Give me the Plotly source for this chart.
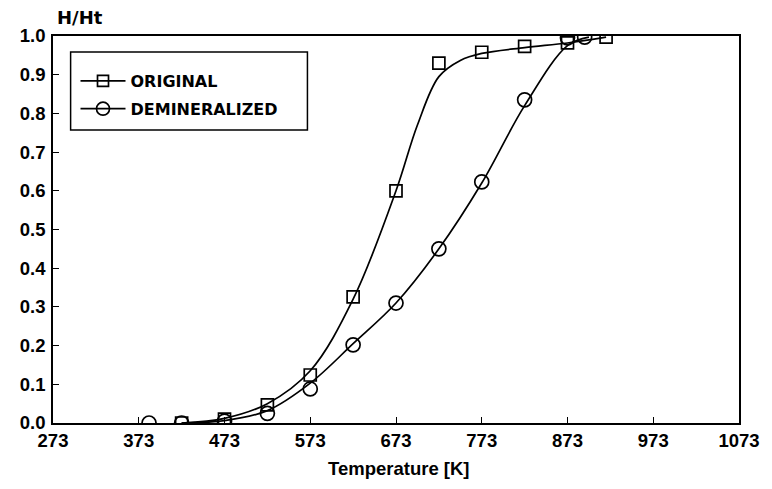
import plotly.graph_objects as go

# Measured points
orig_T = [423, 473, 523, 573, 623, 673, 723, 773, 823, 873, 918]
orig_H = [0.0, 0.01, 0.047, 0.124, 0.326, 0.60, 0.93, 0.958, 0.973, 0.982, 0.997]
demin_T = [385, 423, 473, 523, 573, 623, 673, 723, 773, 823, 873, 893]
demin_H = [0.0, 0.0, 0.005, 0.025, 0.088, 0.202, 0.31, 0.45, 0.623, 0.835, 0.995, 0.997]

# Smoothed curves
orig_curve_T = [423, 473, 523, 573, 623, 673, 698, 723, 748, 773, 823, 873, 918]
orig_curve_H = [0.0, 0.012, 0.05, 0.135, 0.32, 0.60, 0.77, 0.895, 0.937, 0.955, 0.97, 0.982, 0.997]
demin_curve_T = [423, 473, 523, 573, 623, 673, 723, 773, 823, 873, 898]
demin_curve_H = [0.0, 0.006, 0.032, 0.103, 0.205, 0.31, 0.45, 0.62, 0.82, 0.975, 0.997]

x_ticks = [273, 373, 473, 573, 673, 773, 873, 973, 1073]
y_ticks = [0.0, 0.1, 0.2, 0.3, 0.4, 0.5, 0.6, 0.7, 0.8, 0.9, 1.0]

FONT = "Liberation Sans"
FONT2 = "DejaVu Sans"
fig = go.Figure()

fig.add_trace(go.Scatter(x=orig_curve_T, y=orig_curve_H, mode="lines",
                         line=dict(color="black", width=1.7, shape="spline", smoothing=1.0),
                         showlegend=False, hoverinfo="skip"))
fig.add_trace(go.Scatter(x=demin_curve_T, y=demin_curve_H, mode="lines",
                         line=dict(color="black", width=1.7, shape="spline", smoothing=1.0),
                         showlegend=False, hoverinfo="skip"))
fig.add_trace(go.Scatter(x=orig_T, y=orig_H, mode="markers", name="ORIGINAL",
                         marker=dict(symbol="square-open", size=12, color="black", line=dict(width=1.7)),
                         showlegend=False))
fig.add_trace(go.Scatter(x=demin_T, y=demin_H, mode="markers", name="DEMINERALIZED",
                         marker=dict(symbol="circle-open", size=14, color="black", line=dict(width=1.7)),
                         showlegend=False))
# legend entries
fig.add_trace(go.Scatter(x=[None], y=[None], mode="lines+markers", name="ORIGINAL",
                         legendgroup="a",
                         line=dict(color="black", width=1.7),
                         marker=dict(symbol="square-open", size=11, color="black", line=dict(width=1.7))))
fig.add_trace(go.Scatter(x=[None], y=[None], mode="lines+markers", name="DEMINERALIZED",
                         legendgroup="b",
                         line=dict(color="black", width=1.7),
                         marker=dict(symbol="circle-open", size=13, color="black", line=dict(width=1.7))))

# page body has an 8px margin: work in reference-pixel coords, offset by 8
OFF = 8
W, H = 772 - OFF, 489 - OFF
L, T = 46 - OFF, 36 - OFF
R, B = W - (747 - OFF), H - (423 - OFF)
pw, ph = W - L - R, H - T - B

def px(x):
    return (x - OFF - L) / pw

def py(y):
    return (H - B - (y - OFF)) / ph

fig.add_shape(type="rect", xref="paper", yref="paper",
              x0=px(64), x1=px(306), y0=py(130), y1=py(52),
              line=dict(color="black", width=1.5), fillcolor="rgba(0,0,0,0)")

fig.update_layout(
    width=W, height=H,
    margin=dict(l=L, r=R, t=T, b=B),
    paper_bgcolor="white", plot_bgcolor="white",
    font=dict(family=FONT, size=18, color="black"),
    legend=dict(x=px(69), y=py(64), xanchor="left", yanchor="top",
                bgcolor="rgba(0,0,0,0)", borderwidth=0,
                font=dict(family=FONT2, size=16, color="black", weight="bold"),
                itemwidth=45, tracegroupgap=4),
    xaxis=dict(range=[273, 1073], tickvals=x_ticks, ticktext=[str(v) for v in x_ticks],
               ticks="inside", ticklen=6, tickwidth=1.3, tickcolor="black",
               showline=True, linecolor="black", linewidth=1.5, mirror=True,
               showgrid=False, zeroline=False, ticklabeloverflow="allow",
               tickfont=dict(family=FONT, size=18.5, weight="bold")),
    yaxis=dict(range=[0, 1.0], tickvals=y_ticks, ticktext=[f"{v:.1f}" for v in y_ticks],
               ticks="inside", ticklen=6, tickwidth=1.3, tickcolor="black",
               showline=True, linecolor="black", linewidth=1.5, mirror=True,
               showgrid=False, zeroline=False, ticklabelstandoff=2,
               tickfont=dict(family=FONT, size=18.5, weight="bold")),
    annotations=[
        dict(text="H/Ht", xref="paper", yref="paper", x=px(48), y=py(17),
             xanchor="left", yanchor="middle", showarrow=False,
             font=dict(family=FONT2, size=18, weight="bold")),
        dict(text="Temperature [K]", xref="paper", yref="paper", x=px(400), y=py(468),
             xanchor="center", yanchor="middle", showarrow=False,
             font=dict(family=FONT, size=18.5, weight="bold")),
    ],
)

fig.write_html("out.html")
